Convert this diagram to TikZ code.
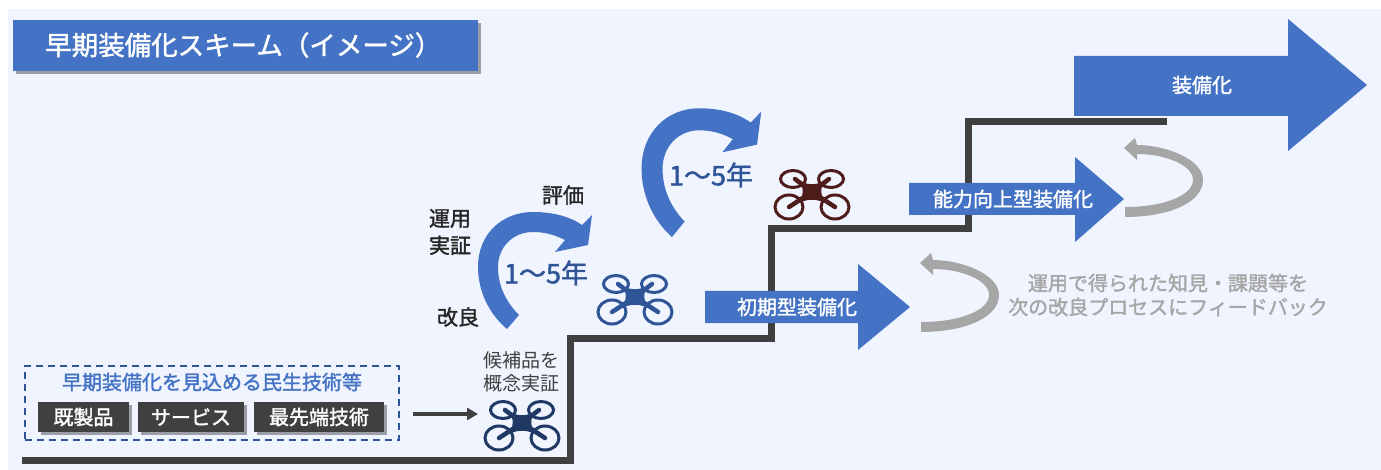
\documentclass[tikz,border=0pt]{standalone}
\usepackage{fontspec}
\setmainfont{Noto Sans CJK JP}[RawFeature={-chws}]
\newfontfamily\medf{Noto Sans CJK JP}[FakeBold=1.6,RawFeature={-chws}]
\usetikzlibrary{shadows,arrows.meta}
\definecolor{bgc}{HTML}{F0F4FE}
\definecolor{blu}{HTML}{4472C4}
\definecolor{txtblu}{HTML}{2F5597}
\definecolor{stair}{HTML}{404040}
\definecolor{gry}{HTML}{A6A6A6}
\definecolor{navy}{HTML}{1F3864}
\definecolor{mar}{HTML}{4F1C1C}
\tikzset{
  softshadow/.style={drop shadow={shadow xshift=2.5pt,shadow yshift=-2.5pt,fill=black,opacity=.35}},
  darkbox/.style={fill=stair,text=white,font=\fontsize{20}{20}\selectfont\medf,minimum height=30pt,inner sep=0pt,anchor=center,softshadow},
  lbl/.style={font=\fontsize{21}{27}\selectfont\medf,text=black!85,inner sep=0pt,align=center},
  gtxt/.style={font=\fontsize{20}{20}\selectfont\medf,text=gry,inner sep=0pt},
  wtxt/.style={font=\fontsize{20}{20}\selectfont\medf,text=white,inner sep=0pt},
  yrs/.style={font=\fontsize{27}{27}\selectfont\medf,text=txtblu,inner sep=0pt},
  bigarrow/.style={fill=blu},
  pics/drone/.style={code={
    \foreach \sx in {-1,1}{
      \draw[#1,line width=3pt] (\sx*19,-13) ellipse [x radius=12.5,y radius=8.5];
      \draw[#1,line width=3pt] (\sx*23,15) ellipse [x radius=14,y radius=12];
      \draw[#1,line width=4.5pt,line cap=round] (0,0) -- (\sx*17,-13);
      \draw[#1,line width=4.5pt,line cap=round] (0,0) -- (\sx*23,15);
    }
    \fill[#1] (-15,-13) .. controls (-6,-6) and (6,-6) .. (15,-13)
       .. controls (7,-5) and (7,5) .. (17,13)
       .. controls (6,6) and (-6,6) .. (-17,13)
       .. controls (-7,5) and (-7,-5) .. (-15,-13) -- cycle;
    \coordinate (-c) at (0,0);
  }},
  pics/bendup/.style={code={
    \fill[blu] (0,0) .. controls (-18,-15) and (-29,-38) .. (-29,-62)
      .. controls (-29,-95) and (-5,-117) .. (26,-117)
      .. controls (45,-117) and (62,-113) .. (75,-104)
      -- (85,-114) -- (81,-84) -- (48,-77) -- (58,-89)
      .. controls (48,-94) and (38,-97) .. (26,-97)
      .. controls (6,-97) and (-9,-82) .. (-9,-62)
      .. controls (-9,-42) and (0,-26) .. (12,-14) -- cycle;
  }},
  pics/bendback/.style={code={
    \fill[gry] (0,10) .. controls (45,10) and (78,-5) .. (78,-27)
      .. controls (78,-48) and (40,-62) .. (12,-62)
      -- (10,-69) -- (-1,-59) -- (12,-47)
      -- (12,-53)
      .. controls (40,-53) and (68,-42) .. (68,-27)
      .. controls (68,-12) and (40,0) .. (0,0) -- cycle;
  }},
}
\begin{document}
\begin{tikzpicture}[x=1pt,y=-1pt]
\useasboundingbox (0,0) rectangle (1381,470);
\fill[white] (0,0) rectangle (1381,470);
\fill[bgc] (8,9) rectangle (1381,470);

% title
\node[fill=blu,minimum width=465pt,minimum height=51pt,inner sep=0pt,softshadow,anchor=north west] (title) at (13,20) {};
\node[font=\fontsize{26.5}{26.5}\selectfont\medf,text=white,anchor=west,inner sep=0pt] (titletext) at (45,45) {早期装備化スキーム（イメージ）};

% stairs
\coordinate (s0) at (22,460);
\coordinate (s1) at (570,460);
\coordinate (s2) at (570,338);
\coordinate (s3) at (771,338);
\coordinate (s4) at (771,229);
\coordinate (s5) at (968,229);
\coordinate (s6) at (968,122);
\coordinate (s7) at (1167,122);
\draw[stair,line width=7pt,line join=miter] (s0) -- (s1) -- (s2) -- (s3) -- (s4) -- (s5) -- (s6) -- (s7);

% dashed box
\node[draw=txtblu,dash pattern=on 7pt off 5pt,line width=1.6pt,minimum width=374pt,minimum height=74pt,inner sep=0pt,anchor=north west] (techbox) at (24,365) {};
\node[font=\fontsize{20}{20}\selectfont\medf,text=blu,inner sep=0pt] (techtitle) at (212,382) {早期装備化を見込める民生技術等};
\node[darkbox,minimum width=91pt] (b1) at (83.5,417) {既製品};
\node[darkbox,minimum width=106pt] (b2) at (191,417) {サービス};
\node[darkbox,minimum width=130pt] (b3) at (319,417) {最先端技術};

% drones
\pic (d1) at (522,423) {drone=navy};
\pic (d2) at (635,297) {drone=txtblu};
\pic (d3) at (812,192) {drone=mar};

\coordinate (a1) at (413,414);
\coordinate (a2) at (478,414);
\draw[stair,line width=3.5pt,-{Triangle[length=11pt,width=12pt]}] (a1) -- (a2);

\node[lbl,font=\fontsize{19}{23}\selectfont,text=stair] (cand) at (521,372) {候補品を\\概念実証};

% curved arrows
\pic (c1) at (507,329) {bendup};
\pic[xscale=1.05,yscale=1.1] (c2) at (672,237) {bendup};
\node[yrs] (y1) at (546,273) {1～5年};
\node[yrs] (y2) at (711,175) {1～5年};
\node[lbl] (l1) at (563,195) {評価};
\node[lbl] (l2) at (450,232) {運用\\実証};
\node[lbl] (l3) at (458,317) {改良};

% big arrows
\fill[bigarrow] (1074,56) -- (1288,56) -- (1288,19) -- (1367,85) -- (1288,151) -- (1288,116) -- (1074,116) -- cycle;
\node[wtxt] (t1) at (1202,85) {装備化};
\fill[bigarrow] (705,291) -- (858,291) -- (858,264) -- (910,307) -- (858,350) -- (858,323) -- (705,323) -- cycle;
\node[wtxt] (t2) at (797,307) {初期型装備化};
\fill[bigarrow] (909,183) -- (1075,183) -- (1075,157) -- (1124,199) -- (1075,242) -- (1075,215) -- (909,215) -- cycle;
\node[wtxt] (t3) at (1013,199) {能力向上型装備化};

% feedback arrows
\pic (g1) at (1125,207) {bendback};
\pic (g2) at (921,322) {bendback};

\node[gtxt] (f1) at (1168,283) {運用で得られた知見・課題等を};
\node[gtxt] (f2) at (1168,307) {次の改良プロセスにフィードバック};
\end{tikzpicture}
\end{document}
